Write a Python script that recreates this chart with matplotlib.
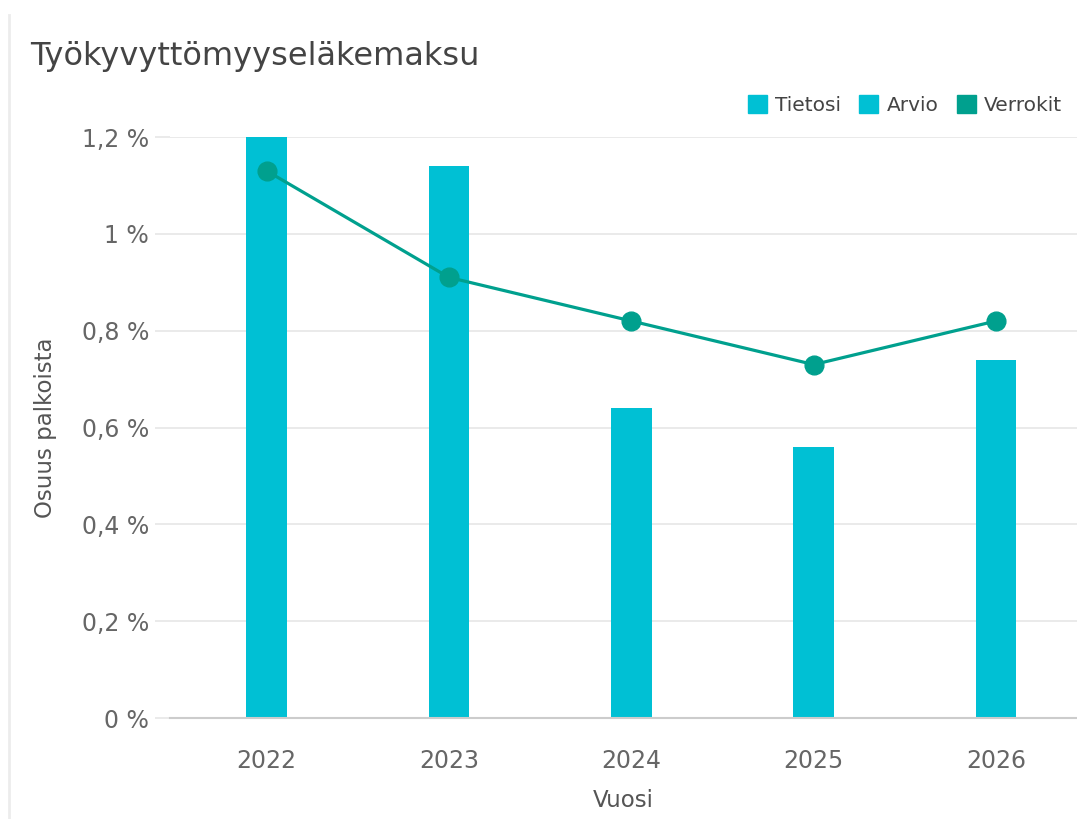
import numpy as np
import matplotlib.pyplot as plt
from matplotlib.patches import Patch
from matplotlib.lines import Line2D

plt.rcParams['font.family'] = ['DejaVu Sans']

# data
years = ['2022', '2023', '2024', '2025', '2026']
tietosi = [1.20, 1.14, np.nan, np.nan, np.nan]
arvio = [np.nan, np.nan, 0.64, 0.56, 0.74]
verrokit = [1.13, 0.91, 0.82, 0.73, 0.82]
yticks = [0, 0.2, 0.4, 0.6, 0.8, 1.0, 1.2]
ytick_labels = ['0 %', '0,2 %', '0,4 %', '0,6 %', '0,8 %', '1 %', '1,2 %']
legend_labels = ['Tietosi', 'Arvio', 'Verrokit']

BAR = '#00c0d4'
LINE = '#00a08e'
GRID = '#e6e6e6'
TXT = '#666666'

fig = plt.figure(figsize=(10.77, 8.19), dpi=100)
ax = fig.add_axes([170 / 1077, 101 / 819, 907 / 1077, 581 / 819])

x = np.arange(len(years))
ax.bar(x, tietosi, width=0.223, color=BAR, zorder=2)
ax.bar(x, arvio, width=0.223, color=BAR, zorder=2)
ax.plot(x, verrokit, color=LINE, lw=2.3, marker='o', ms=13.5, zorder=3)

ax.set_xlim(-0.53, 4.444)
ax.set_ylim(0, 1.2)
ax.set_yticks(yticks)
ax.set_yticklabels(ytick_labels)
ax.set_xticks(x)
ax.set_xticklabels(years)
ax.yaxis.grid(True, color=GRID, lw=1.2, zorder=0)
ax.tick_params(axis='y', length=11, width=1.2, color=GRID, pad=4, labelsize=17, labelcolor=TXT)
ax.tick_params(axis='x', length=0, pad=22, labelsize=17, labelcolor=TXT)

for s in ['top', 'right', 'left']:
    ax.spines[s].set_visible(False)
ax.spines['bottom'].set_color('#cccccc')
ax.spines['bottom'].set_linewidth(1.5)

ax.set_xlabel('Vuosi', fontsize=16.5, color='#555555', labelpad=12)
ax.set_ylabel('Osuus palkoista', fontsize=16.5, color='#555555', labelpad=18)

fig.text(30 / 1077, 1 - 56 / 819, 'Työkyvyttömyyseläkemaksu', fontsize=23,
         color='#444444', va='center', ha='left')

handles = [Patch(color=BAR), Patch(color=BAR), Patch(color=LINE)]
fig.legend(handles, legend_labels, loc='center left', bbox_to_anchor=(748 / 1077, 1 - 105 / 819),
           ncol=3, frameon=False, fontsize=14.5, labelcolor='#444444',
           handlelength=0.95, handleheight=0.95, handletextpad=0.4, columnspacing=0.9,
           borderaxespad=0, borderpad=0)

fig.add_artist(Line2D([9 / 1077, 9 / 1077], [0, 1 - 15 / 819], color='#ececec', lw=2))

fig.savefig('out.png', dpi=100)
